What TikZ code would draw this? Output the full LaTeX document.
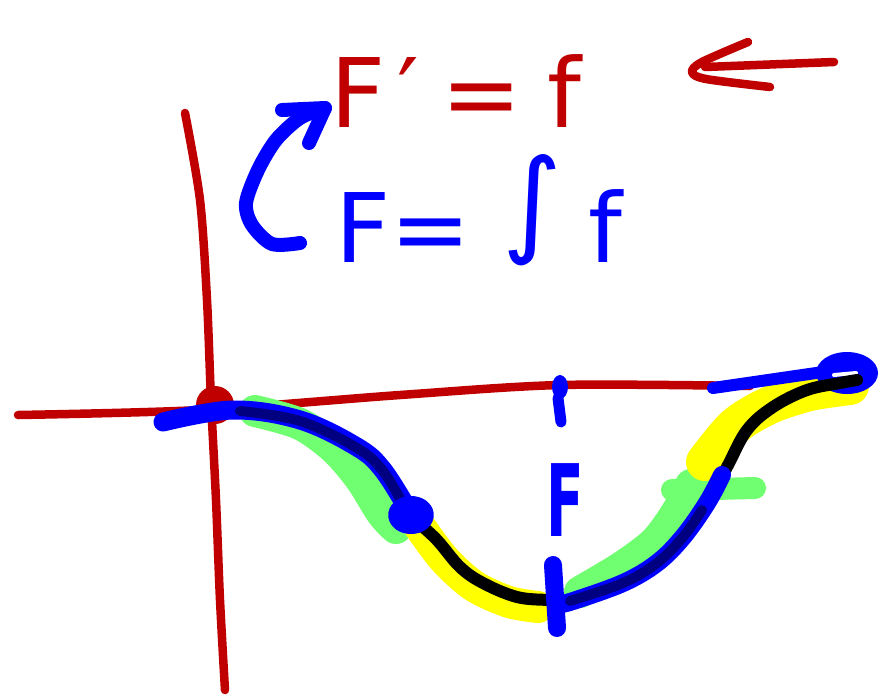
\documentclass[tikz,border=0pt]{standalone}
\usepackage{fontspec}
\setmainfont{DejaVu Sans}
\definecolor{cAxis}{HTML}{C00000}
\definecolor{cPen}{HTML}{0000FF}
\definecolor{cNavy}{HTML}{000080}
\definecolor{cGreen}{HTML}{70FF70}
\definecolor{cYellow}{HTML}{FFFF00}

\begin{document}
\begin{tikzpicture}[
    x=1pt, y=-1pt,
    axis/.style={draw=cAxis, line width=8.5pt, line cap=round, line join=round},
    pen/.style={draw=cPen, line cap=round, line join=round},
    band/.style={line width=32pt, line cap=round, line join=round},
    curve/.style={draw=black, line width=12pt, line cap=round, line join=round},
    inner/.style={draw=cNavy, line width=10pt, line cap=round, line join=round},
    hand/.style={font=\fontsize{96}{96}\selectfont, inner sep=0pt, anchor=base west},
]
\useasboundingbox (0,0) rectangle (893,697);

% ===================== Ejes =====================
\draw[axis] plot[smooth] coordinates {(185,113) (200,200) (207,300) (211,400) (216,500) (220,600) (225,690)};
\draw[axis] plot[smooth] coordinates {(18,415) (200,410) (400,395) (560,385) (750,386)};
\fill[cAxis] (215,405) circle (19);

% ===================== Bandas de color =====================
\draw[band, cGreen] plot[smooth] coordinates {(255,411) (300,424) (334,448) (360,478) (382,513) (396,528)};
\draw[band, cYellow, line width=32pt] plot[smooth] coordinates {(418,524) (444,559) (474,586) (509,602) (538,607)};
\draw[band, cGreen] plot[smooth] coordinates {(580,592) (622,567) (655,542) (677,512) (691,485)};
\draw[band, cGreen, line width=22pt] (672,490) -- (755,488);
\draw[band, cYellow, line width=38pt] plot[smooth] coordinates {(705,462) (735,426) (770,405) (810,392) (850,386)};

% ===================== Tangente final =====================
\draw[pen, line width=12pt] (713,388) -- (823,372);
\fill[cPen] (847,373) ellipse (31 and 21);
\draw[white, line width=4pt, line cap=round] (834,375) -- (856,373);

% ===================== Curva F =====================
\draw[curve] plot[smooth, tension=0.6] coordinates {(233,410) (300,420) (357,447) (383,470) (410,513)
    (437,540) (460,567) (483,583) (517,597) (550,600) (573,600) (623,583) (657,563) (683,537)
    (707,503) (727,467) (747,430) (773,407) (807,390) (840,383) (857,380)};

% tramo azul sobre la curva (origen -> inflexion)
\draw[pen, line width=19pt] plot[smooth, tension=0.6] coordinates {(163,422) (233,410) (300,420) (357,447) (383,470) (410,513)};
\draw[inner] plot[smooth, tension=0.6] coordinates {(240,411) (300,421) (357,448) (383,471) (404,506)};

% tramo azul sobre la curva (minimo -> subida)
\draw[pen, line width=18pt] plot[smooth, tension=0.6] coordinates {(560,604) (573,601) (623,583) (657,563) (683,537) (707,503) (722,475)};
\draw[inner] plot[smooth, tension=0.6] coordinates {(570,601) (623,583) (657,563) (683,537) (702,510)};

% ===================== Marcas =====================
\draw[pen, line width=16pt] (411,515) ellipse (15 and 11);
\draw[pen, line width=18pt] (553,565) -- (557,628);
\fill[cPen] (560,387) ellipse (8 and 12);
\draw[pen, line width=11pt] (558,398) -- (561,422);
\node[hand, text=cPen, anchor=center, xscale=0.55, font=\fontsize{100}{100}\selectfont\bfseries] (lblF) at (565,500) {F};

% ===================== Formulas =====================
\node[hand, text=cAxis] (deriv) at (330,127) {F\hspace{12pt}′\hspace{22pt}=\hspace{26pt}f};
\draw[axis] plot[smooth] coordinates {(748,42) (702,62) (692,72) (706,79) (770,87)};
\draw[axis] (705,67) -- (834,62);

\node[hand, text=cPen] (integ) at (335,262) {F=\hspace{32pt}\raisebox{21pt}{\fontsize{115}{115}\selectfont ∫}\hspace{26pt}f};
\draw[pen, line width=14pt] plot[smooth] coordinates {(300,243) (272,244) (252,225) (246,203) (258,170) (276,140) (300,118) (325,108)};
\draw[pen, line width=14pt] (282,110) -- (325,108) -- (309,143);

\end{tikzpicture}
\end{document}
